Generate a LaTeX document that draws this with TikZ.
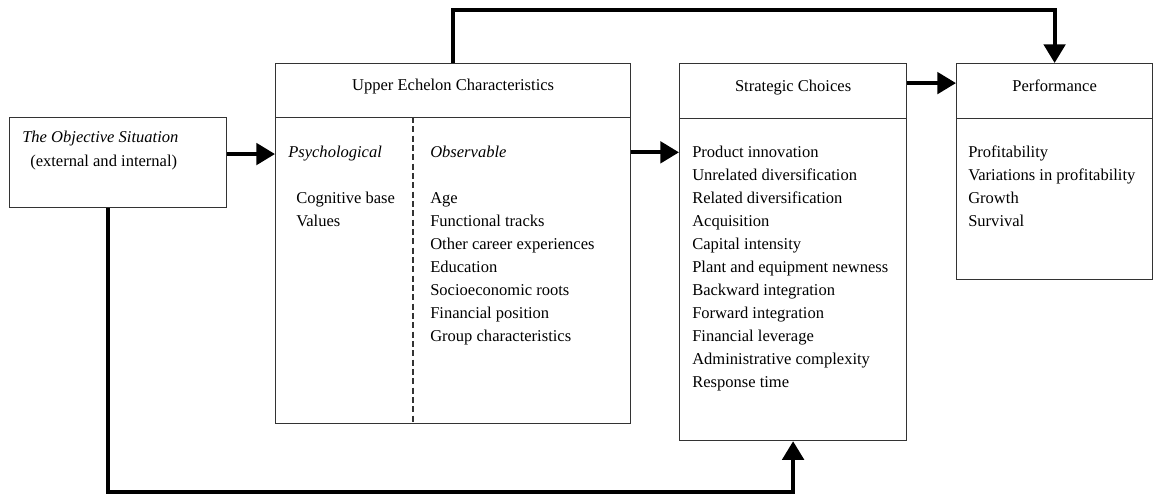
\documentclass[tikz,border=0pt]{standalone}
\usepackage{fontspec}
\setmainfont{Liberation Serif}
\usetikzlibrary{arrows.meta}
\tikzset{
  box/.style={draw=black!80, line width=0.9pt, anchor=north west, inner sep=0pt},
  sz/.style 2 args={minimum width=#1*0.75pt, minimum height=#2*0.75pt},
  hd/.style={box, font=\fontsize{12.4}{17}\selectfont, text height=2ex, text depth=2ex},
  txt/.style={anchor=base west, inner sep=0pt, font=\fontsize{12.4}{17}\selectfont},
  flow/.style={line width=3pt, -{Triangle[length=14pt,width=16pt]}},
  divider/.style={draw=black!80, line width=0.9pt, dash pattern=on 4.5pt off 2.5pt},
}

\begin{document}
\begin{tikzpicture}[x=0.75pt, y=-0.75pt]
\useasboundingbox (0,0) rectangle (1154,495);

% boxes
\node[box, sz={217}{90}] (obj) at (9,117) {};
\node[hd, sz={355}{54}] (upperhd) at (275,63) {Upper Echelon Characteristics};
\node[box, sz={355}{306}] (upper) at (275,117) {};
\node[hd, sz={227}{55}] (strathd) at (679,63) {Strategic Choices};
\node[box, sz={227}{322}] (strat) at (679,118) {};
\node[hd, sz={196}{55}] (perfhd) at (956,63) {Performance};
\node[box, sz={196}{161}] (perf) at (956,118) {};

% texts
\node[txt, font=\fontsize{12.4}{17}\selectfont\itshape] (objtitle) at (22,143) {The Objective Situation};
\node[txt] (objsub) at (30,167) {(external and internal)};
\node[txt, font=\fontsize{12.4}{17}\selectfont\itshape] (psy) at (288,158) {Psychological};
\node[txt, font=\fontsize{12.4}{17}\selectfont\itshape] (obs) at (430,158) {Observable};

\foreach \t [count=\i] in {Cognitive base, Values}
  \node[txt] (psy-\i) at (296,{204+23*(\i-1)}) {\t};
\foreach \t [count=\i] in {Age, Functional tracks, Other career experiences, Education,
    Socioeconomic roots, Financial position, Group characteristics}
  \node[txt] (obs-\i) at (430,{204+23*(\i-1)}) {\t};
\foreach \t [count=\i] in {Product innovation, Unrelated diversification,
    Related diversification, Acquisition, Capital intensity,
    Plant and equipment newness, Backward integration, Forward integration,
    Financial leverage, Administrative complexity, Response time}
  \node[txt] (sc-\i) at (692,{158+23*(\i-1)}) {\t};
\foreach \t [count=\i] in {Profitability, Variations in profitability, Growth, Survival}
  \node[txt] (pf-\i) at (968,{158+23*(\i-1)}) {\t};

% dashed split in upper echelon box
\coordinate (split) at (413,117);
\draw[divider] (split) -- (split |- upper.south);

% connectors
\draw[flow] (obj.east |- psy) -- (upper.west |- psy);
\draw[flow] (upper.east |- sc-1) -- (strat.west |- sc-1);
\draw[flow] ([yshift=6pt]strathd.east) -- ([yshift=6pt]perfhd.west);
\draw[flow] (upperhd.north) -- ++(0,-53) -| (perfhd.north);
\draw[flow] ([xshift=-7.5pt]obj.south) -- ++(0,284) -| (strat.south);

\end{tikzpicture}
\end{document}
